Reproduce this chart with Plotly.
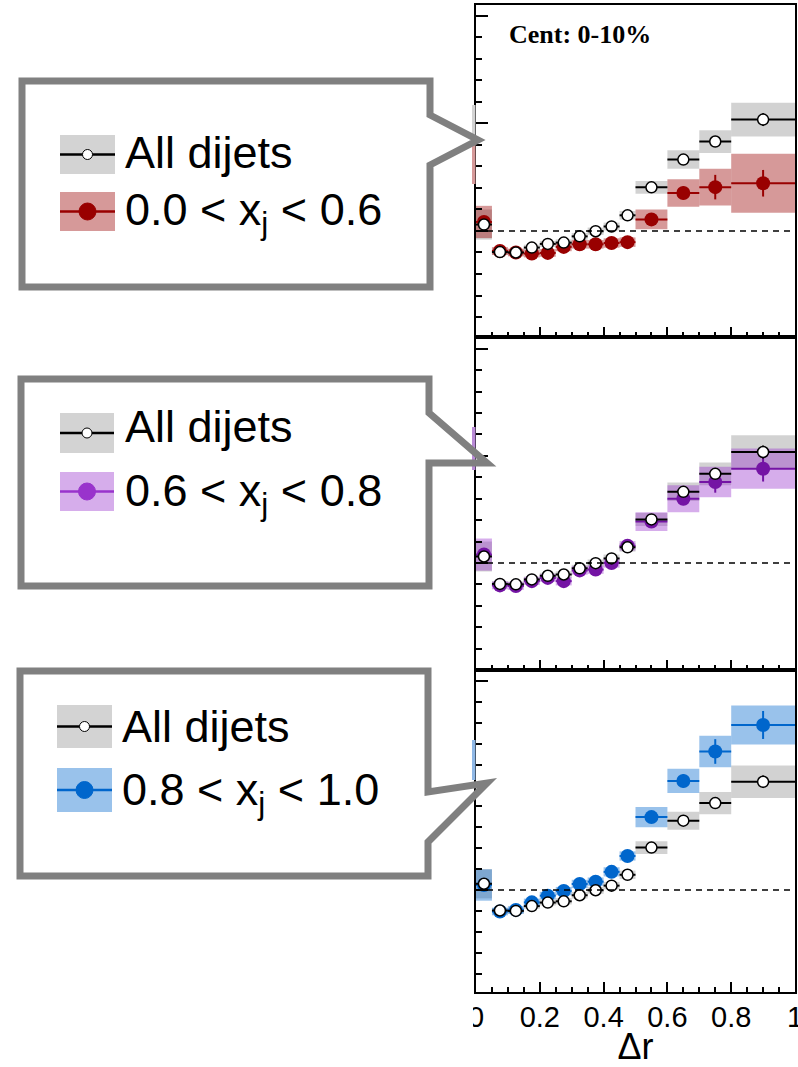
import plotly.graph_objects as go

# ---------------- data ----------------
bin_edges = [0.0, 0.05, 0.10, 0.15, 0.20, 0.25, 0.30, 0.35, 0.40, 0.45, 0.50, 0.60, 0.70, 0.80, 1.00]

all_val  = [1.030, 0.902, 0.900, 0.923, 0.940, 0.946, 0.975, 0.999, 1.021, 1.073, 1.203, 1.332, 1.416, 1.518]
all_stat = [0.006, 0.004, 0.004, 0.004, 0.004, 0.004, 0.005, 0.005, 0.005, 0.006, 0.010, 0.015, 0.023, 0.030]
all_sys  = [0.070, 0.013, 0.013, 0.013, 0.014, 0.015, 0.016, 0.017, 0.018, 0.020, 0.030, 0.043, 0.053, 0.078]

red_val  = [1.042, 0.907, 0.900, 0.895, 0.898, 0.926, 0.938, 0.938, 0.944, 0.948, 1.054, 1.177, 1.204, 1.222]
red_stat = [0.008, 0.006, 0.006, 0.006, 0.006, 0.006, 0.007, 0.007, 0.008, 0.008, 0.015, 0.030, 0.057, 0.062]
red_sys  = [0.075, 0.018, 0.018, 0.018, 0.018, 0.020, 0.020, 0.020, 0.022, 0.022, 0.046, 0.064, 0.085, 0.137]

pur_val  = [1.039, 0.895, 0.892, 0.915, 0.930, 0.915, 0.965, 0.969, 1.000, 1.080, 1.193, 1.300, 1.378, 1.440]
pur_stat = [0.008, 0.006, 0.006, 0.006, 0.006, 0.006, 0.007, 0.007, 0.008, 0.008, 0.015, 0.030, 0.050, 0.060]
pur_sys  = [0.075, 0.018, 0.018, 0.018, 0.018, 0.020, 0.020, 0.020, 0.022, 0.022, 0.044, 0.063, 0.071, 0.094]

blu_val  = [1.024, 0.897, 0.905, 0.941, 0.973, 0.995, 1.029, 1.040, 1.087, 1.163, 1.349, 1.522, 1.663, 1.790]
blu_stat = [0.008, 0.006, 0.006, 0.006, 0.006, 0.006, 0.007, 0.007, 0.008, 0.008, 0.015, 0.032, 0.059, 0.067]
blu_sys  = [0.075, 0.018, 0.018, 0.018, 0.018, 0.020, 0.020, 0.020, 0.022, 0.022, 0.048, 0.058, 0.075, 0.093]

legend_all = "All dijets"
legend_labels = ["0.0 < x<sub>j</sub> < 0.6", "0.6 < x<sub>j</sub> < 0.8", "0.8 < x<sub>j</sub> < 1.0"]
cent_label = "Cent: 0-10%"
x_title = "Δr"

# ---------------- styles ----------------
COL_MARK = ["#990000", "#7414a4", "#0066cc"]
COL_LEG = ["#990000", "#9933cc", "#0066cc"]
COL_BOX = ["rgba(153,0,0,0.40)", "rgba(153,51,204,0.40)", "rgba(0,102,204,0.40)"]
GRAY_BOX = "rgba(127,127,127,0.35)"
GRAY_SOLID = "#d3d3d3"
BOX_LEG = ["#d69999", "#d6adeb", "#99c2eb"]

centers = [(a + b) / 2 for a, b in zip(bin_edges[:-1], bin_edges[1:])]
halfw = [(b - a) / 2 for a, b in zip(bin_edges[:-1], bin_edges[1:])]
widths = [b - a for a, b in zip(bin_edges[:-1], bin_edges[1:])]

W_FIG, H_FIG = 798, 1067
L, R, T, B = 476, 795, 5, 992
PW, PH = R - L, B - T


def px(x):
    return (x - L) / PW


def py(y):
    return (B - y) / PH


panel_tops = [5, 337, 670]
panel_bots = [337, 670, 992]
y_ranges = [[0.507, 2.051], [0.500, 2.055], [0.512, 2.053]]

series = [(red_val, red_stat, red_sys), (pur_val, pur_stat, pur_sys), (blu_val, blu_stat, blu_sys)]

fig = go.Figure()
for i in range(3):
    xa = "x" if i == 0 else f"x{i+1}"
    ya = "y" if i == 0 else f"y{i+1}"
    v, st, sy = series[i]
    # systematic boxes
    fig.add_trace(go.Bar(x=centers, y=[2 * s for s in all_sys], base=[a - s for a, s in zip(all_val, all_sys)],
                         width=widths, marker=dict(color=GRAY_BOX, line=dict(width=0)),
                         xaxis=xa, yaxis=ya, showlegend=False, hoverinfo="skip"))
    fig.add_trace(go.Bar(x=centers, y=[2 * s for s in sy], base=[a - s for a, s in zip(v, sy)],
                         width=widths, marker=dict(color=COL_BOX[i], line=dict(width=0)),
                         xaxis=xa, yaxis=ya, showlegend=False, hoverinfo="skip"))
    # colored points
    fig.add_trace(go.Scatter(x=centers, y=v, mode="markers",
                             marker=dict(color=COL_MARK[i], size=14, line=dict(width=0)),
                             error_x=dict(type="data", array=halfw, color=COL_MARK[i], thickness=2, width=0),
                             error_y=dict(type="data", array=st, color=COL_MARK[i], thickness=2, width=0),
                             xaxis=xa, yaxis=ya, showlegend=False))
    # all dijets
    fig.add_trace(go.Scatter(x=centers, y=all_val, mode="markers",
                             marker=dict(color="white", size=11, line=dict(color="black", width=1.5)),
                             error_x=dict(type="data", array=halfw, color="black", thickness=2, width=0),
                             error_y=dict(type="data", array=all_stat, color="black", thickness=2, width=0),
                             xaxis=xa, yaxis=ya, showlegend=False))

layout = dict(
    width=W_FIG, height=H_FIG,
    margin=dict(l=L, r=W_FIG - R, t=T, b=H_FIG - B, autoexpand=False),
    paper_bgcolor="white", plot_bgcolor="white",
    barmode="overlay", showlegend=False,
    font=dict(family="Liberation Sans", color="black"),
)
for i in range(3):
    xk = "xaxis" if i == 0 else f"xaxis{i+1}"
    yk = "yaxis" if i == 0 else f"yaxis{i+1}"
    ya = "y" if i == 0 else f"y{i+1}"
    xa = "x" if i == 0 else f"x{i+1}"
    layout[xk] = dict(
        domain=[0, 1], anchor=ya, range=[0, 1.0], showgrid=False, zeroline=False,
        showline=True, linecolor="black", linewidth=2, mirror=True, automargin=False,
        ticks="inside", ticklen=10, tickwidth=2, tickcolor="black",
        tickmode="linear", tick0=0, dtick=0.2,
        minor=dict(ticks="inside", dtick=0.05, tick0=0, ticklen=5, tickwidth=1.5, tickcolor="black"),
        showticklabels=(i == 2),
        tickfont=dict(size=29, family="Liberation Sans", color="black"),
        ticklabelstandoff=-2, ticklabeloverflow="allow",
    )
    if i != 0:
        layout[xk]["matches"] = "x"
    if i == 2:
        layout[xk]["title"] = dict(text=x_title, font=dict(size=36, family="Liberation Sans", color="black"), standoff=0)
    layout[yk] = dict(
        domain=[py(panel_bots[i]), py(panel_tops[i])], anchor=xa, range=y_ranges[i], automargin=False,
        showgrid=False, zeroline=False, showline=True, linecolor="black", linewidth=2, mirror=True,
        ticks="inside", ticklen=12, tickwidth=2, tickcolor="black", dtick=0.5, tick0=0,
        minor=dict(ticks="inside", dtick=0.1, tick0=0, ticklen=6, tickwidth=1.5, tickcolor="black"),
        showticklabels=False,
    )
fig.update_layout(**layout)

shapes = []
annotations = []
# dashed reference lines at unity
for i in range(3):
    xa = "x" if i == 0 else f"x{i+1}"
    ya = "y" if i == 0 else f"y{i+1}"
    shapes.append(dict(type="line", xref=xa, yref=ya, x0=0, x1=1, y0=1, y1=1,
                       line=dict(color="black", width=1.5, dash="6px,5px"), layer="above"))

# remnants of a neighbouring (cropped) panel at the left edge
remnants = [((105, 140), GRAY_SOLID), ((135, 184), "#d69999"), ((427, 470), "#b98ad6"), ((740, 780), "#8fb8e6")]
for (y0, y1), c in remnants:
    shapes.append(dict(type="rect", xref="paper", yref="paper", x0=px(472), x1=px(475.5), y0=py(y1), y1=py(y0),
                       fillcolor=c, line=dict(width=0), layer="above"))

# crop the left half of the "0" tick label
shapes.append(dict(type="rect", xref="paper", yref="paper", x0=px(430), x1=px(473), y0=py(1045), y1=py(997),
                   fillcolor="white", line=dict(width=0), layer="above"))

# callout boxes (pixel outlines)
callouts = [
    [(22, 81), (430, 81), (430, 115), (478, 140), (430, 165), (430, 287), (22, 287)],
    [(21, 379), (429, 379), (429, 413), (487, 463), (429, 463), (429, 586), (21, 586)],
    [(20, 671), (428, 671), (428, 792), (487, 783), (428, 842), (428, 876), (20, 876)],
]
for pts in callouts:
    path = "M " + " L ".join(f"{px(x):.5f},{py(y):.5f}" for x, y in pts) + " Z"
    shapes.append(dict(type="path", xref="paper", yref="paper", path=path,
                       line=dict(color="#808080", width=7), fillcolor="rgba(0,0,0,0)", layer="above"))

# legend entries inside callouts
leg_geom = [
    # x0, x1, gray (y0,y1), color (y0,y1), text x, baseline1, baseline2
    (60, 115, (135, 174), (192, 231), 126, 168, 223),
    (60, 114, (413, 453), (472, 511), 126, 443, 503),
    (57, 112, (705, 748), (768, 812), 123, 742, 802),
]
for i, (x0, x1, gy, cy, tx, b1, b2) in enumerate(leg_geom):
    for (y0, y1), fill, lc, mk, r, mline in [(gy, GRAY_SOLID, "black", "white", 5, "black"),
                                             (cy, BOX_LEG[i], COL_LEG[i], COL_LEG[i], 8.5, COL_LEG[i])]:
        shapes.append(dict(type="rect", xref="paper", yref="paper", x0=px(x0), x1=px(x1), y0=py(y1), y1=py(y0),
                           fillcolor=fill, line=dict(width=0), layer="above"))
        ym = (y0 + y1) / 2
        shapes.append(dict(type="line", xref="paper", yref="paper", x0=px(x0), x1=px(x1), y0=py(ym), y1=py(ym),
                           line=dict(color=lc, width=2.5), layer="above"))
        xm = (x0 + x1) / 2
        shapes.append(dict(type="circle", xref="paper", yref="paper", x0=px(xm - r), x1=px(xm + r),
                           y0=py(ym + r), y1=py(ym - r), fillcolor=mk, line=dict(color=mline, width=1),
                           layer="above"))
    annotations.append(dict(xref="paper", yref="paper", x=px(tx - 3), y=py(b1 - 16), xanchor="left", yanchor="middle",
                            text=legend_all, showarrow=False,
                            font=dict(size=45, family="Liberation Sans", color="black")))
    annotations.append(dict(xref="paper", yref="paper", x=px(tx - 3), y=py(b2 - 10), xanchor="left", yanchor="middle",
                            text=legend_labels[i], showarrow=False,
                            font=dict(size=45, family="Liberation Sans", color="black")))

annotations.append(dict(xref="paper", yref="paper", x=px(507), y=py(35), xanchor="left", yanchor="middle",
                        text="<b>" + cent_label + "</b>", showarrow=False,
                        font=dict(size=26, family="Liberation Serif", color="black")))

fig.update_layout(shapes=shapes, annotations=annotations)
fig.write_html("out.html")
